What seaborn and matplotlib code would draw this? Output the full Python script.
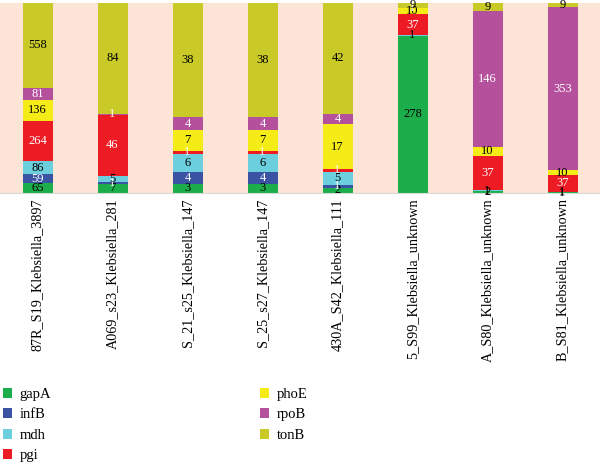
import matplotlib
matplotlib.use("Agg")
import matplotlib.pyplot as plt
import seaborn as sns
import numpy as np

# isolates (x axis)
strains = ['87R_S19_Klebsiella_3897', 'A069_s23_Klebsiella_281', 'S_21_s25_Klebsiella_147',
           'S_25_s27_Klebsiella_147', '430A_S42_Klebsiella_111', '5_S99_Klebsiella_unknown',
           'A_S80_Klebsiella_unknown', 'B_S81_Klebsiella_unknown']

# allele counts per gene
genes = ['gapA', 'infB', 'mdh', 'pgi', 'phoE', 'rpoB', 'tonB']
gapA = [65, 7, 3, 3, 2, 278, 2, 1]
infB = [59, 1, 4, 4, 1, 0, 0, 0]
mdh = [86, 5, 6, 6, 5, 1, 1, 1]
pgi = [264, 46, 1, 1, 1, 37, 37, 37]
phoE = [136, 0, 7, 7, 17, 10, 10, 10]
rpoB = [81, 1, 4, 4, 4, 1, 146, 353]
tonB = [558, 84, 38, 38, 42, 9, 9, 9]

colors = {'gapA': '#1bae4b', 'infB': '#3a53a3', 'mdh': '#6ccfdd', 'pgi': '#ed1c24',
          'phoE': '#f4eb17', 'rpoB': '#b5509d', 'tonB': '#c9c928'}
text_colors = {'gapA': 'black', 'infB': 'white', 'mdh': 'black', 'pgi': 'white',
               'phoE': 'black', 'rpoB': 'white', 'tonB': 'black'}

plt.rcParams['font.family'] = ['Liberation Serif', 'DejaVu Serif']

fig, ax = plt.subplots(figsize=(6, 4.66), dpi=100)
ax.set_facecolor('#fce4d6')

counts = np.array([gapA, infB, mdh, pgi, phoE, rpoB, tonB], dtype=float)
totals = counts.sum(axis=0)
bottom = np.zeros(len(strains))
for gene, vals in zip(genes, counts):
    share = vals / totals
    sns.barplot(x=strains, y=share, bottom=bottom, color=colors[gene], saturation=1,
                width=0.4, label=gene, errorbar=None, linewidth=0, ax=ax)
    labels = [str(int(v)) if v > 0 else '' for v in vals]
    ax.bar_label(ax.containers[-1], labels=labels, label_type='center',
                 fontsize=9, color=text_colors[gene])
    bottom += share

if ax.get_legend() is not None:
    ax.get_legend().remove()

ax.set_xlim(-0.5, 7.5)
ax.set_ylim(0, 1)
ax.set_yticks([])
ax.set_xlabel('')
ax.set_ylabel('')
ax.tick_params(axis='x', labelrotation=90, labelsize=10.2, length=0, pad=4)
for side in ['top', 'left', 'right']:
    ax.spines[side].set_visible(False)
ax.spines['bottom'].set_color('#d9d9d9')

handles, labs = ax.get_legend_handles_labels()
fig.legend(handles, labs, ncol=2, loc='upper left', bbox_to_anchor=(0.005, 0.167),
           frameon=False, fontsize=10.5, handlelength=0.65, handleheight=0.65,
           handletextpad=0.5, columnspacing=14.3, labelspacing=0.5,
           borderpad=0, borderaxespad=0)

fig.subplots_adjust(left=0, right=1, top=0.994, bottom=0.586)
fig.savefig('out.png', dpi=100)
